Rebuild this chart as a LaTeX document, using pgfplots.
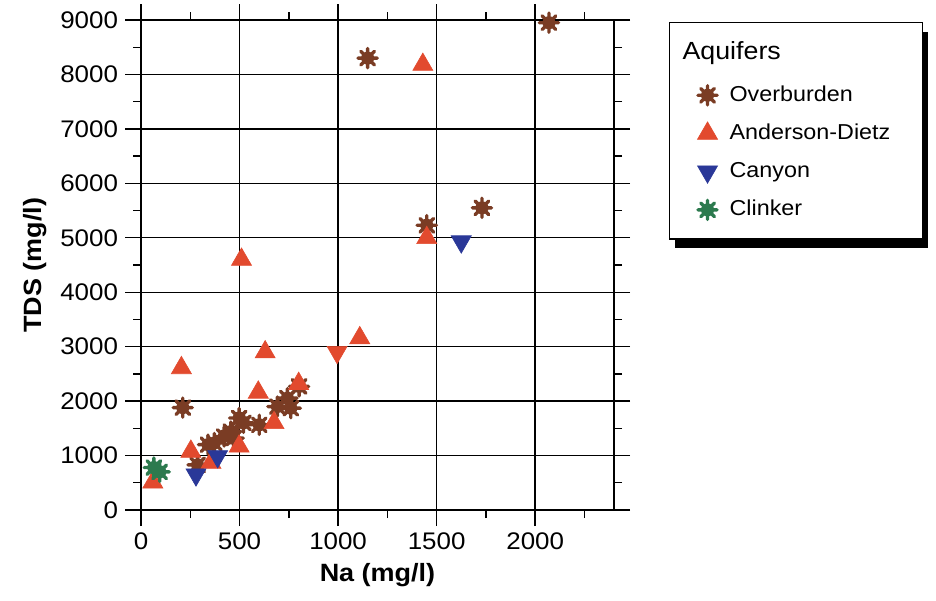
\documentclass[border=0pt]{standalone}
\usepackage{fontspec}
\setmainfont{Liberation Sans}[FakeStretch=1.08]
\usepackage{pgfplots}
\pgfplotsset{compat=1.18}
\usetikzlibrary{shadows}

\definecolor{overburden}{RGB}{122,60,36}
\definecolor{anderson}{RGB}{226,74,46}
\definecolor{canyon}{RGB}{42,56,152}
\definecolor{clinker}{RGB}{44,122,78}

% filled hub with eight spokes
\pgfdeclareplotmark{gear}{%
  \pgfpathcircle{\pgfpointorigin}{0.68\pgfplotmarksize}%
  \pgfusepathqfill
  \pgfsetroundcap
  \pgfpathmoveto{\pgfpointpolar{0}{\pgfplotmarksize}}\pgfpathlineto{\pgfpointpolar{180}{\pgfplotmarksize}}%
  \pgfpathmoveto{\pgfpointpolar{45}{\pgfplotmarksize}}\pgfpathlineto{\pgfpointpolar{225}{\pgfplotmarksize}}%
  \pgfpathmoveto{\pgfpointpolar{90}{\pgfplotmarksize}}\pgfpathlineto{\pgfpointpolar{270}{\pgfplotmarksize}}%
  \pgfpathmoveto{\pgfpointpolar{135}{\pgfplotmarksize}}\pgfpathlineto{\pgfpointpolar{315}{\pgfplotmarksize}}%
  \pgfusepathqstroke
}

\begin{document}
\begin{tikzpicture}
\useasboundingbox (0,0) rectangle (468pt,300pt);
\begin{axis}[
  at={(70.5pt,45pt)}, anchor=south west,
  scale only axis, width=236.5pt, height=245pt,
  xmin=0, xmax=2400, ymin=0, ymax=9000,
  xtick={0,500,...,2000}, minor xtick={250,750,...,2250},
  ytick={0,1000,...,9000}, minor ytick={500,1500,...,8500},
  grid=major, major grid style={black, line width=0.7pt},
  axis line style={line width=0.7pt},
  tick align=outside, major tick length=8pt, minor tick length=4pt,
  every tick/.style={black, line width=0.7pt},
  tick label style={font=\fontsize{12}{14}\selectfont},
  /pgf/number format/assume math mode=true,
  /pgf/number format/set thousands separator={},
  xlabel={Na (mg/l)}, ylabel={TDS (mg/l)},
  label style={font=\fontsize{12.5}{15}\selectfont\bfseries},
  clip=false,
  legend cell align=left,
  legend style={at={(axis description cs:1.116,0.996)}, anchor=north west,
    draw=black, line width=0.6pt, fill=white,
    inner xsep=10.5pt, inner ysep=5pt, row sep=0pt, column sep=4pt,
    font=\fontsize{10.8}{13}\selectfont,
    drop shadow={shadow xshift=2.75pt, shadow yshift=-4.5pt, fill=black, opacity=1},
    nodes={text height=8.8pt, text depth=2.7pt, inner ysep=3.8pt,
      text width=84pt, align=left}},
]
\addlegendimage{empty legend}
\addlegendentry[text height=9.6pt, text depth=4.6pt]{\fontsize{12.4}{14}\selectfont\hspace{-23.5pt}Aquifers}

% Overburden
\addplot[only marks, mark=gear, mark size=4.8pt,
  mark options={draw=overburden, fill=overburden, line width=1.7pt}]
  coordinates {
  (2070,8950) (1150,8300) (1450,5230) (1730,5550) (212,1880)
  (802,2270) (743,2055) (692,1900) (760,1870) (600,1565)
  (498,1690) (456,1440) (422,1350) (372,1230) (340,1200)
  (287,830) (470,1320) (520,1600)
  };
\addlegendentry{Overburden}

% Anderson-Dietz
\addplot[only marks, mark=triangle*, mark size=5.8pt,
  mark options={draw=anderson, fill=anderson, line width=0.3pt}]
  coordinates {
  (1430,8180) (1450,5000) (510,4600) (1110,3160) (630,2900)
  (205,2610) (595,2160) (800,2320) (675,1600) (498,1170)
  (253,1075) (355,870) (60,510)
  };
\addlegendentry{Anderson-Dietz}

% Canyon
\addplot[only marks, mark=triangle*, mark size=5.8pt,
  mark options={draw=canyon, fill=canyon, line width=0.3pt, rotate=180}]
  coordinates {
  (1625,4930) (279,650) (389,985)
  };
\addlegendentry{Canyon}

% Clinker
\addplot[only marks, mark=gear, mark size=4.8pt,
  mark options={draw=clinker, fill=clinker, line width=1.7pt}]
  coordinates {
  (65,780) (95,700)
  };
\addlegendentry{Clinker}

% inverted triangle drawn in red
\addplot[only marks, mark=triangle*, mark size=5.8pt, forget plot,
  mark options={draw=anderson, fill=anderson, line width=0.3pt, rotate=180}]
  coordinates {
  (995,2900)
  };
\end{axis}
\end{tikzpicture}
\end{document}
